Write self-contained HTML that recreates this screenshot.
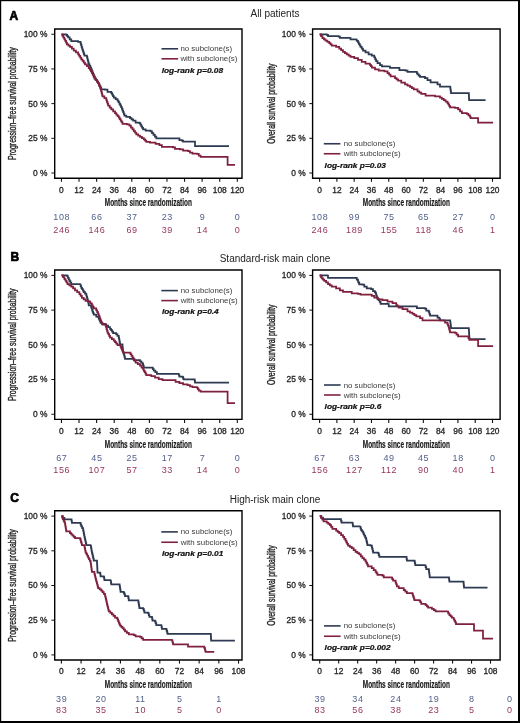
<!DOCTYPE html>
<html><head><meta charset="utf-8"><style>
html,body{margin:0;padding:0;background:#fff;width:520px;height:723px;overflow:hidden}
svg text{font-family:"Liberation Sans", sans-serif}
.lt{font-size:12px;font-weight:bold;fill:#000;stroke:#000;stroke-width:0.7px}
.tt{font-size:10px;fill:#222}
.yl{font-size:10px;fill:#1e1e1e;stroke:#1e1e1e;stroke-width:0.35px}
.tk{font-size:8.4px;fill:#262626;stroke:#262626;stroke-width:0.3px}
.ml{font-size:10.4px;font-weight:bold;fill:#1a1a1a;stroke:#1a1a1a;stroke-width:0.2px}
.nb{font-size:9px;letter-spacing:0.6px;fill:#52618a;stroke:#52618a;stroke-width:0px}
.nr{font-size:9px;letter-spacing:0.6px;fill:#963760;stroke:#963760;stroke-width:0px}
.lg{font-size:7.9px;fill:#3a3a3a}
.lr{font-size:7.6px;font-weight:bold;font-style:italic;fill:#111;stroke:#111;stroke-width:0.2px}
svg{will-change:transform}
</style></head><body>
<svg width="520" height="723" viewBox="0 0 520 723" style="display:block"><rect x="0" y="0" width="520" height="723" fill="#000"/>
<rect x="1.2" y="1.2" width="516.8" height="719.8" fill="#fff"/>
<text x="9.6" y="19.5" class="lt">A</text>
<text x="275" y="16.9" class="tt" text-anchor="middle">All patients</text>
<g transform="translate(16.2,103.625) rotate(-90)"><text x="-56.30" y="0" class="yl" textLength="112.6" lengthAdjust="spacingAndGlyphs">Progression–free survival probability</text></g>
<line x1="51.400000000000006" y1="34.25" x2="54.7" y2="34.25" stroke="#111" stroke-width="1"/>
<text x="47.4" y="37.15" class="tk" text-anchor="end">100 %</text>
<line x1="51.400000000000006" y1="68.94" x2="54.7" y2="68.94" stroke="#111" stroke-width="1"/>
<text x="47.4" y="71.84" class="tk" text-anchor="end">75 %</text>
<line x1="51.400000000000006" y1="103.62" x2="54.7" y2="103.62" stroke="#111" stroke-width="1"/>
<text x="47.4" y="106.53" class="tk" text-anchor="end">50 %</text>
<line x1="51.400000000000006" y1="138.31" x2="54.7" y2="138.31" stroke="#111" stroke-width="1"/>
<text x="47.4" y="141.21" class="tk" text-anchor="end">25 %</text>
<line x1="51.400000000000006" y1="173.00" x2="54.7" y2="173.00" stroke="#111" stroke-width="1"/>
<text x="47.4" y="175.90" class="tk" text-anchor="end">0 %</text>
<line x1="61.45" y1="178.2" x2="61.45" y2="181.79999999999998" stroke="#111" stroke-width="1.1"/>
<text x="61.45" y="192.50" class="tk" text-anchor="middle">0</text>
<line x1="79.03" y1="178.2" x2="79.03" y2="181.79999999999998" stroke="#111" stroke-width="1.1"/>
<text x="79.03" y="192.50" class="tk" text-anchor="middle">12</text>
<line x1="96.62" y1="178.2" x2="96.62" y2="181.79999999999998" stroke="#111" stroke-width="1.1"/>
<text x="96.62" y="192.50" class="tk" text-anchor="middle">24</text>
<line x1="114.21" y1="178.2" x2="114.21" y2="181.79999999999998" stroke="#111" stroke-width="1.1"/>
<text x="114.21" y="192.50" class="tk" text-anchor="middle">36</text>
<line x1="131.79" y1="178.2" x2="131.79" y2="181.79999999999998" stroke="#111" stroke-width="1.1"/>
<text x="131.79" y="192.50" class="tk" text-anchor="middle">48</text>
<line x1="149.38" y1="178.2" x2="149.38" y2="181.79999999999998" stroke="#111" stroke-width="1.1"/>
<text x="149.38" y="192.50" class="tk" text-anchor="middle">60</text>
<line x1="166.96" y1="178.2" x2="166.96" y2="181.79999999999998" stroke="#111" stroke-width="1.1"/>
<text x="166.96" y="192.50" class="tk" text-anchor="middle">72</text>
<line x1="184.55" y1="178.2" x2="184.55" y2="181.79999999999998" stroke="#111" stroke-width="1.1"/>
<text x="184.55" y="192.50" class="tk" text-anchor="middle">84</text>
<line x1="202.13" y1="178.2" x2="202.13" y2="181.79999999999998" stroke="#111" stroke-width="1.1"/>
<text x="202.13" y="192.50" class="tk" text-anchor="middle">96</text>
<line x1="219.72" y1="178.2" x2="219.72" y2="181.79999999999998" stroke="#111" stroke-width="1.1"/>
<text x="219.72" y="192.50" class="tk" text-anchor="middle">108</text>
<line x1="237.30" y1="178.2" x2="237.30" y2="181.79999999999998" stroke="#111" stroke-width="1.1"/>
<text x="237.30" y="192.50" class="tk" text-anchor="middle">120</text>
<text x="104.75" y="206.39999999999998" class="ml" textLength="87.2" lengthAdjust="spacingAndGlyphs">Months since randomization</text>
<text x="61.75" y="219.9" class="nb" text-anchor="middle">108</text>
<text x="96.92" y="219.9" class="nb" text-anchor="middle">66</text>
<text x="132.09" y="219.9" class="nb" text-anchor="middle">37</text>
<text x="167.26" y="219.9" class="nb" text-anchor="middle">23</text>
<text x="202.43" y="219.9" class="nb" text-anchor="middle">9</text>
<text x="237.60" y="219.9" class="nb" text-anchor="middle">0</text>
<text x="61.75" y="233.4" class="nr" text-anchor="middle">246</text>
<text x="96.92" y="233.4" class="nr" text-anchor="middle">146</text>
<text x="132.09" y="233.4" class="nr" text-anchor="middle">69</text>
<text x="167.26" y="233.4" class="nr" text-anchor="middle">39</text>
<text x="202.43" y="233.4" class="nr" text-anchor="middle">14</text>
<text x="237.60" y="233.4" class="nr" text-anchor="middle">0</text>
<path d="M61.45,34.25 L66.25,34.25 L66.25,34.90 L67.17,34.90 L67.17,36.15 L68.10,36.15 L68.10,37.40 L69.67,37.40 L69.67,39.25 L71.25,39.25 L71.25,41.10 L78.10,41.10 L78.10,41.75 L80.60,41.75 L80.60,43.60 L81.07,43.60 L81.07,45.17 L81.55,45.17 L81.55,46.75 L82.03,46.75 L82.03,48.33 L82.50,48.33 L82.50,49.90 L82.97,49.90 L82.97,51.30 L83.45,51.30 L83.45,52.70 L83.93,52.70 L83.93,54.10 L84.40,54.10 L84.40,55.50 L86.90,55.50 L86.90,56.75 L87.27,56.75 L87.27,58.25 L87.64,58.25 L87.64,59.75 L88.01,59.75 L88.01,61.25 L88.38,61.25 L88.38,62.75 L88.75,62.75 L88.75,64.25 L89.54,64.25 L89.54,65.96 L90.33,65.96 L90.33,67.67 L91.11,67.67 L91.11,69.39 L91.90,69.39 L91.90,71.10 L92.52,71.10 L92.52,72.60 L93.14,72.60 L93.14,74.10 L93.76,74.10 L93.76,75.60 L94.38,75.60 L94.38,77.10 L95.00,77.10 L95.00,78.60 L96.03,78.60 L96.03,80.07 L97.07,80.07 L97.07,81.53 L98.10,81.53 L98.10,83.00 L98.89,83.00 L98.89,84.56 L99.67,84.56 L99.67,86.12 L100.46,86.12 L100.46,87.69 L101.25,87.69 L101.25,89.25 L105.00,89.25 L105.00,89.60 L107.50,89.60 L107.50,91.90 L111.30,91.90 L111.30,93.10 L112.13,93.10 L112.13,94.57 L112.97,94.57 L112.97,96.03 L113.80,96.03 L113.80,97.50 L115.65,97.50 L115.65,99.05 L117.50,99.05 L117.50,100.60 L118.45,100.60 L118.45,102.20 L119.40,102.20 L119.40,103.80 L120.23,103.80 L120.23,105.47 L121.07,105.47 L121.07,107.13 L121.90,107.13 L121.90,108.80 L122.53,108.80 L122.53,110.50 L123.15,110.50 L123.15,112.20 L123.78,112.20 L123.78,113.90 L124.40,113.90 L124.40,115.60 L126.30,115.60 L126.30,116.90 L130.00,116.90 L130.00,118.10 L131.55,118.10 L131.55,119.35 L133.10,119.35 L133.10,120.60 L135.60,120.60 L135.60,122.50 L139.40,122.50 L139.40,123.10 L140.32,123.10 L140.32,124.67 L141.25,124.67 L141.25,126.25 L142.18,126.25 L142.18,127.83 L143.10,127.83 L143.10,129.40 L145.60,129.40 L145.60,130.60 L150.60,130.60 L150.60,131.30 L152.03,131.30 L152.03,133.05 L153.45,133.05 L153.45,134.80 L154.88,134.80 L154.88,136.55 L156.30,136.55 L156.30,138.30 L178.10,138.30 L179.40,138.40 L179.40,140.00 L181.90,140.00 L181.90,140.60 L183.10,140.60 L183.10,141.50 L195.00,141.50 L195.00,146.00 L229.00,146.00" fill="none" stroke="#2e3a52" stroke-width="1.75" stroke-linejoin="miter"/>
<path d="M61.45,34.25 L62.43,34.25 L62.43,35.92 L63.42,35.92 L63.42,37.58 L64.40,37.58 L64.40,39.25 L65.23,39.25 L65.23,40.92 L66.07,40.92 L66.07,42.58 L66.90,42.58 L66.90,44.25 L68.45,44.25 L68.45,45.50 L70.00,45.50 L70.00,46.75 L71.88,46.75 L71.88,48.62 L73.75,48.62 L73.75,50.50 L75.92,50.50 L75.92,52.38 L78.10,52.38 L78.10,54.25 L79.15,54.25 L79.15,55.92 L80.20,55.92 L80.20,57.58 L81.25,57.58 L81.25,59.25 L82.50,59.25 L82.50,60.92 L83.75,60.92 L83.75,62.58 L85.00,62.58 L85.00,64.25 L86.88,64.25 L86.88,66.12 L88.75,66.12 L88.75,68.00 L89.80,68.00 L89.80,69.67 L90.85,69.67 L90.85,71.33 L91.90,71.33 L91.90,73.00 L92.73,73.00 L92.73,74.87 L93.57,74.87 L93.57,76.73 L94.40,76.73 L94.40,78.60 L95.63,78.60 L95.63,80.07 L96.87,80.07 L96.87,81.53 L98.10,81.53 L98.10,83.00 L98.72,83.00 L98.72,84.50 L99.35,84.50 L99.35,86.00 L99.97,86.00 L99.97,87.50 L100.60,87.50 L100.60,89.00 L100.98,89.00 L100.98,90.46 L101.36,90.46 L101.36,91.92 L101.74,91.92 L101.74,93.38 L102.12,93.38 L102.12,94.84 L102.50,94.84 L102.50,96.30 L104.40,96.30 L104.40,98.15 L106.30,98.15 L106.30,100.00 L106.90,100.00 L106.90,101.87 L107.50,101.87 L107.50,103.73 L108.10,103.73 L108.10,105.60 L109.70,105.60 L109.70,107.50 L111.30,107.50 L111.30,109.40 L113.15,109.40 L113.15,111.25 L115.00,111.25 L115.00,113.10 L116.27,113.10 L116.27,114.57 L117.53,114.57 L117.53,116.03 L118.80,116.03 L118.80,117.50 L119.72,117.50 L119.72,119.08 L120.65,119.08 L120.65,120.65 L121.58,120.65 L121.58,122.22 L122.50,122.22 L122.50,123.80 L126.90,123.80 L126.90,124.40 L129.40,124.40 L129.40,125.60 L130.95,125.60 L130.95,127.50 L132.50,127.50 L132.50,129.40 L133.77,129.40 L133.77,131.07 L135.03,131.07 L135.03,132.73 L136.30,132.73 L136.30,134.40 L138.15,134.40 L138.15,135.65 L140.00,135.65 L140.00,136.90 L141.90,136.90 L141.90,138.15 L143.80,138.15 L143.80,139.40 L145.05,139.40 L145.05,140.65 L146.30,140.65 L146.30,141.90 L150.00,141.90 L150.00,142.50 L155.60,142.50 L155.60,143.80 L159.40,143.80 L159.40,145.00 L161.90,145.00 L161.90,146.90 L173.10,146.90 L173.10,147.25 L175.00,147.25 L175.00,148.75 L180.00,148.75 L180.00,149.40 L183.10,149.40 L183.10,150.60 L188.10,150.60 L188.10,151.00 L190.00,151.00 L190.00,152.50 L192.50,152.50 L192.50,153.50 L196.90,153.50 L196.90,153.90 L198.75,153.90 L198.75,155.60 L200.60,155.60 L200.60,156.80 L227.60,156.80 L227.60,164.80 L235.00,164.80" fill="none" stroke="#80203f" stroke-width="1.75" stroke-linejoin="miter"/>
<line x1="161.5" y1="48.8" x2="178.1" y2="48.8" stroke="#2e3a52" stroke-width="1.6"/>
<line x1="161.5" y1="58.8" x2="178.1" y2="58.8" stroke="#80203f" stroke-width="1.6"/>
<text x="180.4" y="51.3" class="lg">no subclone(s)</text>
<text x="180.4" y="61.3" class="lg">with subclone(s)</text>
<g transform="translate(161.7,72.9) scale(1.1,1)"><text x="0" y="0" class="lr">log-rank p=0.08</text></g>
<path d="M54.7,29.0 L242.0,29.0 L242.0,178.2 L54.7,178.2 Z" fill="none" stroke="#000" stroke-width="1.4"/>
<g transform="translate(274.5,103.625) rotate(-90)"><text x="-40.15" y="0" class="yl" textLength="80.3" lengthAdjust="spacingAndGlyphs">Overall survival probability</text></g>
<line x1="309.3" y1="34.25" x2="312.6" y2="34.25" stroke="#111" stroke-width="1"/>
<text x="305.6" y="37.15" class="tk" text-anchor="end">100 %</text>
<line x1="309.3" y1="68.94" x2="312.6" y2="68.94" stroke="#111" stroke-width="1"/>
<text x="305.6" y="71.84" class="tk" text-anchor="end">75 %</text>
<line x1="309.3" y1="103.62" x2="312.6" y2="103.62" stroke="#111" stroke-width="1"/>
<text x="305.6" y="106.53" class="tk" text-anchor="end">50 %</text>
<line x1="309.3" y1="138.31" x2="312.6" y2="138.31" stroke="#111" stroke-width="1"/>
<text x="305.6" y="141.21" class="tk" text-anchor="end">25 %</text>
<line x1="309.3" y1="173.00" x2="312.6" y2="173.00" stroke="#111" stroke-width="1"/>
<text x="305.6" y="175.90" class="tk" text-anchor="end">0 %</text>
<line x1="319.60" y1="178.2" x2="319.60" y2="181.79999999999998" stroke="#111" stroke-width="1.1"/>
<text x="319.60" y="192.50" class="tk" text-anchor="middle">0</text>
<line x1="336.89" y1="178.2" x2="336.89" y2="181.79999999999998" stroke="#111" stroke-width="1.1"/>
<text x="336.89" y="192.50" class="tk" text-anchor="middle">12</text>
<line x1="354.18" y1="178.2" x2="354.18" y2="181.79999999999998" stroke="#111" stroke-width="1.1"/>
<text x="354.18" y="192.50" class="tk" text-anchor="middle">24</text>
<line x1="371.47" y1="178.2" x2="371.47" y2="181.79999999999998" stroke="#111" stroke-width="1.1"/>
<text x="371.47" y="192.50" class="tk" text-anchor="middle">36</text>
<line x1="388.76" y1="178.2" x2="388.76" y2="181.79999999999998" stroke="#111" stroke-width="1.1"/>
<text x="388.76" y="192.50" class="tk" text-anchor="middle">48</text>
<line x1="406.05" y1="178.2" x2="406.05" y2="181.79999999999998" stroke="#111" stroke-width="1.1"/>
<text x="406.05" y="192.50" class="tk" text-anchor="middle">60</text>
<line x1="423.34" y1="178.2" x2="423.34" y2="181.79999999999998" stroke="#111" stroke-width="1.1"/>
<text x="423.34" y="192.50" class="tk" text-anchor="middle">72</text>
<line x1="440.63" y1="178.2" x2="440.63" y2="181.79999999999998" stroke="#111" stroke-width="1.1"/>
<text x="440.63" y="192.50" class="tk" text-anchor="middle">84</text>
<line x1="457.92" y1="178.2" x2="457.92" y2="181.79999999999998" stroke="#111" stroke-width="1.1"/>
<text x="457.92" y="192.50" class="tk" text-anchor="middle">96</text>
<line x1="475.21" y1="178.2" x2="475.21" y2="181.79999999999998" stroke="#111" stroke-width="1.1"/>
<text x="475.21" y="192.50" class="tk" text-anchor="middle">108</text>
<line x1="492.50" y1="178.2" x2="492.50" y2="181.79999999999998" stroke="#111" stroke-width="1.1"/>
<text x="492.50" y="192.50" class="tk" text-anchor="middle">120</text>
<text x="362.75" y="206.39999999999998" class="ml" textLength="87.2" lengthAdjust="spacingAndGlyphs">Months since randomization</text>
<text x="319.90" y="219.9" class="nb" text-anchor="middle">108</text>
<text x="354.48" y="219.9" class="nb" text-anchor="middle">99</text>
<text x="389.06" y="219.9" class="nb" text-anchor="middle">75</text>
<text x="423.64" y="219.9" class="nb" text-anchor="middle">65</text>
<text x="458.22" y="219.9" class="nb" text-anchor="middle">27</text>
<text x="492.80" y="219.9" class="nb" text-anchor="middle">0</text>
<text x="319.90" y="233.4" class="nr" text-anchor="middle">246</text>
<text x="354.48" y="233.4" class="nr" text-anchor="middle">189</text>
<text x="389.06" y="233.4" class="nr" text-anchor="middle">155</text>
<text x="423.64" y="233.4" class="nr" text-anchor="middle">118</text>
<text x="458.22" y="233.4" class="nr" text-anchor="middle">46</text>
<text x="492.80" y="233.4" class="nr" text-anchor="middle">1</text>
<path d="M319.60,34.25 L326.75,34.25 L326.75,34.90 L328.00,34.90 L328.00,36.10 L338.60,36.10 L338.60,36.50 L339.90,36.50 L339.90,37.75 L349.25,37.75 L350.50,38.00 L350.50,39.25 L355.50,39.25 L356.75,39.50 L356.75,40.95 L358.00,40.95 L358.00,42.40 L358.83,42.40 L358.83,43.85 L359.67,43.85 L359.67,45.30 L360.50,45.30 L360.50,46.75 L361.75,46.75 L361.75,48.62 L363.00,48.62 L363.00,50.50 L365.50,50.50 L365.50,52.40 L368.60,52.40 L368.60,54.25 L371.75,54.25 L371.75,55.50 L374.25,55.50 L374.25,57.40 L375.18,57.40 L375.18,59.25 L376.10,59.25 L376.10,61.10 L377.50,61.10 L377.50,63.10 L380.00,63.10 L380.00,65.00 L381.90,65.00 L381.90,66.25 L387.50,66.25 L390.00,66.50 L390.00,67.75 L396.90,67.75 L399.40,67.75 L399.40,70.00 L405.60,70.00 L405.60,70.60 L407.50,70.60 L407.50,71.90 L416.25,71.90 L416.88,71.90 L416.88,73.15 L417.50,73.15 L417.50,74.40 L418.75,74.40 L418.75,75.65 L420.00,75.65 L420.00,76.90 L425.00,76.90 L425.00,78.10 L427.50,78.10 L427.50,80.00 L430.60,80.00 L430.60,82.25 L436.25,82.25 L437.50,82.25 L437.50,84.40 L440.00,84.40 L440.00,86.50 L450.00,86.50 L450.25,86.50 L450.25,88.15 L450.50,88.15 L450.50,89.80 L450.75,89.80 L450.75,91.45 L451.00,91.45 L451.00,93.10 L468.75,93.10 L468.84,93.10 L468.84,94.82 L468.93,94.82 L468.93,96.55 L469.01,96.55 L469.01,98.28 L469.10,98.28 L469.10,100.00 L485.60,100.00" fill="none" stroke="#2e3a52" stroke-width="1.75" stroke-linejoin="miter"/>
<path d="M319.60,34.25 L321.00,34.25 L321.00,36.12 L322.40,36.12 L322.40,38.00 L323.95,38.00 L323.95,39.25 L325.50,39.25 L325.50,40.50 L327.38,40.50 L327.38,41.75 L329.25,41.75 L329.25,43.00 L330.50,43.00 L330.50,44.25 L331.75,44.25 L331.75,45.50 L336.10,45.50 L336.10,46.75 L339.25,46.75 L339.25,48.60 L341.12,48.60 L341.12,50.17 L343.00,50.17 L343.00,51.75 L344.88,51.75 L344.88,53.00 L346.75,53.00 L346.75,54.25 L348.62,54.25 L348.62,55.50 L350.50,55.50 L350.50,56.75 L354.25,56.75 L354.25,58.00 L358.00,58.00 L358.00,59.90 L361.75,59.90 L361.75,61.75 L365.50,61.75 L365.50,63.60 L369.90,63.60 L369.90,64.90 L370.90,64.90 L370.90,66.20 L371.90,66.20 L371.90,67.50 L375.00,67.50 L375.00,69.40 L378.75,69.40 L378.75,70.60 L384.40,70.60 L384.40,71.25 L387.50,71.25 L387.50,73.10 L389.05,73.10 L389.05,74.67 L390.60,74.67 L390.60,76.25 L395.00,76.25 L395.00,78.10 L396.55,78.10 L396.55,79.35 L398.10,79.35 L398.10,80.60 L401.25,80.60 L401.25,82.50 L405.00,82.50 L405.00,84.40 L407.50,84.40 L407.50,85.65 L410.00,85.65 L410.00,86.90 L411.88,86.90 L411.88,88.15 L413.75,88.15 L413.75,89.40 L417.50,89.40 L417.50,91.25 L419.38,91.25 L419.38,92.50 L421.25,92.50 L421.25,93.75 L425.60,93.75 L425.60,95.60 L435.00,95.60 L435.00,96.25 L440.00,96.25 L440.00,97.50 L441.88,97.50 L441.88,98.75 L443.75,98.75 L443.75,100.00 L445.62,100.00 L445.62,101.55 L447.50,101.55 L447.50,103.10 L448.33,103.10 L448.33,104.48 L449.17,104.48 L449.17,105.87 L450.00,105.87 L450.00,107.25 L455.00,107.25 L455.00,107.75 L458.10,107.75 L458.10,109.40 L460.00,109.40 L460.00,111.25 L461.90,111.25 L461.90,113.10 L466.90,113.10 L466.90,113.75 L468.45,113.75 L468.45,115.33 L470.00,115.33 L470.00,116.90 L470.60,116.90 L470.60,118.10 L478.10,118.10 L478.10,122.50 L493.10,122.50" fill="none" stroke="#80203f" stroke-width="1.75" stroke-linejoin="miter"/>
<line x1="323.8" y1="143.75" x2="340.40000000000003" y2="143.75" stroke="#2e3a52" stroke-width="1.6"/>
<line x1="323.8" y1="153.75" x2="340.40000000000003" y2="153.75" stroke="#80203f" stroke-width="1.6"/>
<text x="343.65" y="146.25" class="lg">no subclone(s)</text>
<text x="343.65" y="156.25" class="lg">with subclone(s)</text>
<g transform="translate(324.59999999999997,167.5) scale(1.1,1)"><text x="0" y="0" class="lr">log-rank p=0.03</text></g>
<path d="M312.6,29.0 L500.1,29.0 L500.1,178.2 L312.6,178.2 Z" fill="none" stroke="#000" stroke-width="1.4"/>
<text x="10.6" y="261.2" class="lt">B</text>
<text x="275" y="262.0" class="tt" text-anchor="middle">Standard-risk main clone</text>
<g transform="translate(16.2,344.825) rotate(-90)"><text x="-56.30" y="0" class="yl" textLength="112.6" lengthAdjust="spacingAndGlyphs">Progression–free survival probability</text></g>
<line x1="51.400000000000006" y1="275.40" x2="54.7" y2="275.40" stroke="#111" stroke-width="1"/>
<text x="47.4" y="278.30" class="tk" text-anchor="end">100 %</text>
<line x1="51.400000000000006" y1="310.11" x2="54.7" y2="310.11" stroke="#111" stroke-width="1"/>
<text x="47.4" y="313.01" class="tk" text-anchor="end">75 %</text>
<line x1="51.400000000000006" y1="344.82" x2="54.7" y2="344.82" stroke="#111" stroke-width="1"/>
<text x="47.4" y="347.72" class="tk" text-anchor="end">50 %</text>
<line x1="51.400000000000006" y1="379.54" x2="54.7" y2="379.54" stroke="#111" stroke-width="1"/>
<text x="47.4" y="382.44" class="tk" text-anchor="end">25 %</text>
<line x1="51.400000000000006" y1="414.25" x2="54.7" y2="414.25" stroke="#111" stroke-width="1"/>
<text x="47.4" y="417.15" class="tk" text-anchor="end">0 %</text>
<line x1="61.45" y1="419.4" x2="61.45" y2="423.0" stroke="#111" stroke-width="1.1"/>
<text x="61.45" y="433.70" class="tk" text-anchor="middle">0</text>
<line x1="79.03" y1="419.4" x2="79.03" y2="423.0" stroke="#111" stroke-width="1.1"/>
<text x="79.03" y="433.70" class="tk" text-anchor="middle">12</text>
<line x1="96.62" y1="419.4" x2="96.62" y2="423.0" stroke="#111" stroke-width="1.1"/>
<text x="96.62" y="433.70" class="tk" text-anchor="middle">24</text>
<line x1="114.21" y1="419.4" x2="114.21" y2="423.0" stroke="#111" stroke-width="1.1"/>
<text x="114.21" y="433.70" class="tk" text-anchor="middle">36</text>
<line x1="131.79" y1="419.4" x2="131.79" y2="423.0" stroke="#111" stroke-width="1.1"/>
<text x="131.79" y="433.70" class="tk" text-anchor="middle">48</text>
<line x1="149.38" y1="419.4" x2="149.38" y2="423.0" stroke="#111" stroke-width="1.1"/>
<text x="149.38" y="433.70" class="tk" text-anchor="middle">60</text>
<line x1="166.96" y1="419.4" x2="166.96" y2="423.0" stroke="#111" stroke-width="1.1"/>
<text x="166.96" y="433.70" class="tk" text-anchor="middle">72</text>
<line x1="184.55" y1="419.4" x2="184.55" y2="423.0" stroke="#111" stroke-width="1.1"/>
<text x="184.55" y="433.70" class="tk" text-anchor="middle">84</text>
<line x1="202.13" y1="419.4" x2="202.13" y2="423.0" stroke="#111" stroke-width="1.1"/>
<text x="202.13" y="433.70" class="tk" text-anchor="middle">96</text>
<line x1="219.72" y1="419.4" x2="219.72" y2="423.0" stroke="#111" stroke-width="1.1"/>
<text x="219.72" y="433.70" class="tk" text-anchor="middle">108</text>
<line x1="237.30" y1="419.4" x2="237.30" y2="423.0" stroke="#111" stroke-width="1.1"/>
<text x="237.30" y="433.70" class="tk" text-anchor="middle">120</text>
<text x="104.75" y="447.59999999999997" class="ml" textLength="87.2" lengthAdjust="spacingAndGlyphs">Months since randomization</text>
<text x="61.75" y="461.1" class="nb" text-anchor="middle">67</text>
<text x="96.92" y="461.1" class="nb" text-anchor="middle">45</text>
<text x="132.09" y="461.1" class="nb" text-anchor="middle">25</text>
<text x="167.26" y="461.1" class="nb" text-anchor="middle">17</text>
<text x="202.43" y="461.1" class="nb" text-anchor="middle">7</text>
<text x="237.60" y="461.1" class="nb" text-anchor="middle">0</text>
<text x="61.75" y="472.5" class="nr" text-anchor="middle">156</text>
<text x="96.92" y="472.5" class="nr" text-anchor="middle">107</text>
<text x="132.09" y="472.5" class="nr" text-anchor="middle">57</text>
<text x="167.26" y="472.5" class="nr" text-anchor="middle">33</text>
<text x="202.43" y="472.5" class="nr" text-anchor="middle">14</text>
<text x="237.60" y="472.5" class="nr" text-anchor="middle">0</text>
<path d="M61.45,275.40 L66.90,275.40 L66.90,275.90 L67.83,275.90 L67.83,277.75 L68.75,277.75 L68.75,279.60 L69.58,279.60 L69.58,281.07 L70.42,281.07 L70.42,282.53 L71.25,282.53 L71.25,284.00 L80.00,284.00 L80.62,284.25 L80.62,286.00 L81.25,286.00 L81.25,287.75 L82.08,287.75 L82.08,289.20 L82.92,289.20 L82.92,290.65 L83.75,290.65 L83.75,292.10 L85.00,292.10 L85.00,293.68 L86.25,293.68 L86.25,295.25 L86.71,295.25 L86.71,296.96 L87.17,296.96 L87.17,298.68 L87.64,298.68 L87.64,300.39 L88.10,300.39 L88.10,302.10 L88.42,302.10 L88.42,303.68 L88.75,303.68 L88.75,305.25 L90.60,305.25 L91.07,305.25 L91.07,306.81 L91.55,306.81 L91.55,308.38 L92.03,308.38 L92.03,309.94 L92.50,309.94 L92.50,311.50 L93.12,311.50 L93.12,313.05 L93.75,313.05 L93.75,314.60 L96.25,314.60 L96.25,316.50 L98.10,316.50 L98.10,317.10 L98.72,317.10 L98.72,318.51 L99.35,318.51 L99.35,319.93 L99.97,319.93 L99.97,321.34 L100.60,321.34 L100.60,322.75 L102.50,322.75 L102.50,324.60 L106.25,324.60 L106.25,325.60 L108.12,325.60 L108.12,327.18 L110.00,327.18 L110.00,328.75 L111.03,328.75 L111.03,330.20 L112.07,330.20 L112.07,331.65 L113.10,331.65 L113.10,333.10 L116.25,333.10 L116.25,334.40 L117.50,334.40 L117.50,335.95 L118.75,335.95 L118.75,337.50 L119.06,337.50 L119.06,339.23 L119.38,339.23 L119.38,340.95 L119.69,340.95 L119.69,342.67 L120.00,342.67 L120.00,344.40 L122.50,344.40 L122.50,346.25 L122.65,346.25 L122.65,347.66 L122.80,347.66 L122.80,349.07 L122.95,349.07 L122.95,350.49 L123.10,350.49 L123.10,351.90 L123.57,351.90 L123.57,353.61 L124.05,353.61 L124.05,355.32 L124.53,355.32 L124.53,357.04 L125.00,357.04 L125.00,358.75 L131.25,358.75 L133.75,358.75 L133.75,360.00 L140.00,360.00 L140.00,361.25 L141.25,361.25 L141.25,362.50 L142.50,362.50 L142.50,363.75 L143.12,363.75 L143.12,365.62 L143.75,365.62 L143.75,367.50 L151.90,367.50 L152.82,367.50 L152.82,369.05 L153.75,369.05 L153.75,370.60 L155.32,370.60 L155.32,372.18 L156.90,372.18 L156.90,373.75 L178.50,373.75 L178.95,374.00 L178.95,375.25 L179.40,375.25 L179.40,376.50 L182.50,376.50 L182.50,376.90 L183.00,376.90 L183.00,378.15 L183.50,378.15 L183.50,379.40 L194.40,379.40 L194.70,379.40 L194.70,380.95 L195.00,380.95 L195.00,382.50 L229.00,382.50" fill="none" stroke="#2e3a52" stroke-width="1.75" stroke-linejoin="miter"/>
<path d="M61.45,275.40 L62.93,275.40 L62.93,277.20 L64.40,277.20 L64.40,279.00 L65.43,279.00 L65.43,280.67 L66.47,280.67 L66.47,282.33 L67.50,282.33 L67.50,284.00 L69.38,284.00 L69.38,285.25 L71.25,285.25 L71.25,286.50 L73.12,286.50 L73.12,288.38 L75.00,288.38 L75.00,290.25 L77.20,290.25 L77.20,292.12 L79.40,292.12 L79.40,294.00 L80.65,294.00 L80.65,295.88 L81.90,295.88 L81.90,297.75 L83.75,297.75 L83.75,299.32 L85.60,299.32 L85.60,300.90 L88.75,300.90 L88.75,301.50 L90.33,301.50 L90.33,303.38 L91.90,303.38 L91.90,305.25 L92.83,305.25 L92.83,306.82 L93.75,306.82 L93.75,308.40 L96.25,308.40 L96.25,310.25 L97.17,310.25 L97.17,312.12 L98.10,312.12 L98.10,314.00 L98.73,314.00 L98.73,315.67 L99.37,315.67 L99.37,317.33 L100.00,317.33 L100.00,319.00 L100.63,319.00 L100.63,320.58 L101.27,320.58 L101.27,322.17 L101.90,322.17 L101.90,323.75 L105.60,323.75 L105.60,325.60 L106.07,325.60 L106.07,327.33 L106.55,327.33 L106.55,329.05 L107.03,329.05 L107.03,330.77 L107.50,330.77 L107.50,332.50 L108.33,332.50 L108.33,334.17 L109.17,334.17 L109.17,335.83 L110.00,335.83 L110.00,337.50 L111.88,337.50 L111.88,339.05 L113.75,339.05 L113.75,340.60 L115.00,340.60 L115.00,342.07 L116.25,342.07 L116.25,343.53 L117.50,343.53 L117.50,345.00 L120.60,345.00 L120.60,346.90 L121.22,346.90 L121.22,348.30 L121.85,348.30 L121.85,349.70 L122.47,349.70 L122.47,351.10 L123.10,351.10 L123.10,352.50 L129.40,352.50 L130.43,352.50 L130.43,354.17 L131.47,354.17 L131.47,355.83 L132.50,355.83 L132.50,357.50 L133.53,357.50 L133.53,359.17 L134.57,359.17 L134.57,360.83 L135.60,360.83 L135.60,362.50 L137.80,362.50 L137.80,364.05 L140.00,364.05 L140.00,365.60 L141.55,365.60 L141.55,367.50 L143.10,367.50 L143.10,369.40 L143.89,369.40 L143.89,370.80 L144.68,370.80 L144.68,372.20 L145.46,372.20 L145.46,373.60 L146.25,373.60 L146.25,375.00 L151.25,375.00 L151.25,376.00 L155.00,376.00 L155.00,377.50 L158.75,377.50 L158.75,379.00 L162.50,379.00 L162.50,380.00 L173.10,380.00 L175.60,380.00 L175.60,381.90 L179.40,381.90 L179.40,383.10 L183.10,383.10 L183.10,384.40 L187.50,384.40 L187.50,385.00 L190.00,385.00 L190.00,386.25 L192.50,386.25 L192.50,387.10 L196.90,387.10 L196.90,387.50 L197.82,387.50 L197.82,389.05 L198.75,389.05 L198.75,390.60 L200.60,390.60 L200.60,391.60 L227.60,391.60 L227.60,403.00 L235.00,403.00" fill="none" stroke="#80203f" stroke-width="1.75" stroke-linejoin="miter"/>
<line x1="161.3" y1="290.6" x2="177.9" y2="290.6" stroke="#2e3a52" stroke-width="1.6"/>
<line x1="161.3" y1="300.6" x2="177.9" y2="300.6" stroke="#80203f" stroke-width="1.6"/>
<text x="180.65" y="293.1" class="lg">no subclone(s)</text>
<text x="180.65" y="303.1" class="lg">with subclone(s)</text>
<g transform="translate(161.95,314.0) scale(1.1,1)"><text x="0" y="0" class="lr">log-rank p=0.4</text></g>
<path d="M54.7,270.0 L242.0,270.0 L242.0,419.4 L54.7,419.4 Z" fill="none" stroke="#000" stroke-width="1.4"/>
<g transform="translate(274.5,344.825) rotate(-90)"><text x="-40.15" y="0" class="yl" textLength="80.3" lengthAdjust="spacingAndGlyphs">Overall survival probability</text></g>
<line x1="309.3" y1="275.40" x2="312.6" y2="275.40" stroke="#111" stroke-width="1"/>
<text x="305.6" y="278.30" class="tk" text-anchor="end">100 %</text>
<line x1="309.3" y1="310.11" x2="312.6" y2="310.11" stroke="#111" stroke-width="1"/>
<text x="305.6" y="313.01" class="tk" text-anchor="end">75 %</text>
<line x1="309.3" y1="344.82" x2="312.6" y2="344.82" stroke="#111" stroke-width="1"/>
<text x="305.6" y="347.72" class="tk" text-anchor="end">50 %</text>
<line x1="309.3" y1="379.54" x2="312.6" y2="379.54" stroke="#111" stroke-width="1"/>
<text x="305.6" y="382.44" class="tk" text-anchor="end">25 %</text>
<line x1="309.3" y1="414.25" x2="312.6" y2="414.25" stroke="#111" stroke-width="1"/>
<text x="305.6" y="417.15" class="tk" text-anchor="end">0 %</text>
<line x1="319.60" y1="419.4" x2="319.60" y2="423.0" stroke="#111" stroke-width="1.1"/>
<text x="319.60" y="433.70" class="tk" text-anchor="middle">0</text>
<line x1="336.89" y1="419.4" x2="336.89" y2="423.0" stroke="#111" stroke-width="1.1"/>
<text x="336.89" y="433.70" class="tk" text-anchor="middle">12</text>
<line x1="354.18" y1="419.4" x2="354.18" y2="423.0" stroke="#111" stroke-width="1.1"/>
<text x="354.18" y="433.70" class="tk" text-anchor="middle">24</text>
<line x1="371.47" y1="419.4" x2="371.47" y2="423.0" stroke="#111" stroke-width="1.1"/>
<text x="371.47" y="433.70" class="tk" text-anchor="middle">36</text>
<line x1="388.76" y1="419.4" x2="388.76" y2="423.0" stroke="#111" stroke-width="1.1"/>
<text x="388.76" y="433.70" class="tk" text-anchor="middle">48</text>
<line x1="406.05" y1="419.4" x2="406.05" y2="423.0" stroke="#111" stroke-width="1.1"/>
<text x="406.05" y="433.70" class="tk" text-anchor="middle">60</text>
<line x1="423.34" y1="419.4" x2="423.34" y2="423.0" stroke="#111" stroke-width="1.1"/>
<text x="423.34" y="433.70" class="tk" text-anchor="middle">72</text>
<line x1="440.63" y1="419.4" x2="440.63" y2="423.0" stroke="#111" stroke-width="1.1"/>
<text x="440.63" y="433.70" class="tk" text-anchor="middle">84</text>
<line x1="457.92" y1="419.4" x2="457.92" y2="423.0" stroke="#111" stroke-width="1.1"/>
<text x="457.92" y="433.70" class="tk" text-anchor="middle">96</text>
<line x1="475.21" y1="419.4" x2="475.21" y2="423.0" stroke="#111" stroke-width="1.1"/>
<text x="475.21" y="433.70" class="tk" text-anchor="middle">108</text>
<line x1="492.50" y1="419.4" x2="492.50" y2="423.0" stroke="#111" stroke-width="1.1"/>
<text x="492.50" y="433.70" class="tk" text-anchor="middle">120</text>
<text x="362.75" y="447.59999999999997" class="ml" textLength="87.2" lengthAdjust="spacingAndGlyphs">Months since randomization</text>
<text x="319.90" y="461.1" class="nb" text-anchor="middle">67</text>
<text x="354.48" y="461.1" class="nb" text-anchor="middle">63</text>
<text x="389.06" y="461.1" class="nb" text-anchor="middle">49</text>
<text x="423.64" y="461.1" class="nb" text-anchor="middle">45</text>
<text x="458.22" y="461.1" class="nb" text-anchor="middle">18</text>
<text x="492.80" y="461.1" class="nb" text-anchor="middle">0</text>
<text x="319.90" y="472.5" class="nr" text-anchor="middle">156</text>
<text x="354.48" y="472.5" class="nr" text-anchor="middle">127</text>
<text x="389.06" y="472.5" class="nr" text-anchor="middle">112</text>
<text x="423.64" y="472.5" class="nr" text-anchor="middle">90</text>
<text x="458.22" y="472.5" class="nr" text-anchor="middle">40</text>
<text x="492.80" y="472.5" class="nr" text-anchor="middle">1</text>
<path d="M319.60,275.40 L327.40,275.40 L328.00,275.50 L328.00,277.75 L355.50,277.75 L356.75,277.75 L356.75,279.60 L358.00,279.60 L358.00,281.50 L358.62,281.50 L358.62,282.88 L359.25,282.88 L359.25,284.25 L362.40,284.25 L362.40,284.60 L364.25,284.60 L364.25,286.50 L366.75,286.50 L366.75,288.40 L371.10,288.40 L371.10,289.00 L373.00,289.00 L373.00,291.00 L374.90,291.00 L374.90,292.10 L375.60,292.10 L375.60,293.10 L376.03,293.10 L376.03,294.57 L376.47,294.57 L376.47,296.03 L376.90,296.03 L376.90,297.50 L377.82,297.50 L377.82,298.75 L378.75,298.75 L378.75,300.00 L379.68,300.00 L379.68,301.88 L380.60,301.88 L380.60,303.75 L387.50,303.75 L388.75,304.00 L388.75,306.25 L415.60,306.25 L416.90,306.25 L416.90,308.10 L425.00,308.10 L425.00,308.50 L426.25,308.50 L426.25,310.60 L428.75,310.60 L428.75,311.90 L429.38,311.90 L429.38,313.75 L430.00,313.75 L430.00,315.60 L436.25,315.60 L437.50,315.60 L437.50,317.50 L439.40,317.50 L439.40,318.75 L440.00,318.75 L440.00,320.25 L450.00,320.25 L450.20,320.25 L450.20,321.82 L450.40,321.82 L450.40,323.39 L450.60,323.39 L450.60,324.96 L450.80,324.96 L450.80,326.53 L451.00,326.53 L451.00,328.10 L468.75,328.10 L468.84,328.10 L468.84,329.66 L468.94,329.66 L468.94,331.21 L469.03,331.21 L469.03,332.77 L469.12,332.77 L469.12,334.33 L469.21,334.33 L469.21,335.89 L469.31,335.89 L469.31,337.44 L469.40,337.44 L469.40,339.00 L485.60,339.00" fill="none" stroke="#2e3a52" stroke-width="1.75" stroke-linejoin="miter"/>
<path d="M319.60,275.40 L320.68,275.40 L320.68,276.90 L321.75,276.90 L321.75,278.40 L323.00,278.40 L323.00,279.65 L324.25,279.65 L324.25,280.90 L326.12,280.90 L326.12,282.45 L328.00,282.45 L328.00,284.00 L329.88,284.00 L329.88,285.25 L331.75,285.25 L331.75,286.50 L336.10,286.50 L336.10,288.40 L339.90,288.40 L339.90,290.25 L343.00,290.25 L343.00,291.75 L348.00,291.75 L351.75,291.75 L351.75,293.40 L358.00,293.40 L358.00,293.75 L360.50,293.75 L360.50,294.60 L369.25,294.60 L371.75,294.60 L371.75,295.90 L374.25,295.90 L374.25,297.50 L377.50,297.50 L377.50,299.40 L382.50,299.40 L382.50,300.00 L387.50,300.00 L387.50,301.50 L392.50,301.50 L392.50,303.10 L396.25,303.10 L396.25,305.00 L397.50,305.00 L397.50,306.25 L398.75,306.25 L398.75,307.50 L402.50,307.50 L402.50,309.00 L407.50,309.00 L407.50,311.25 L410.00,311.25 L410.00,312.50 L412.50,312.50 L412.50,313.75 L414.38,313.75 L414.38,315.00 L416.25,315.00 L416.25,316.25 L420.00,316.25 L420.00,318.10 L422.50,318.10 L422.50,320.40 L442.50,320.40 L445.00,320.60 L445.00,322.50 L447.50,322.50 L447.50,324.40 L448.12,324.40 L448.12,325.95 L448.75,325.95 L448.75,327.50 L449.17,327.50 L449.17,329.08 L449.58,329.08 L449.58,330.67 L450.00,330.67 L450.00,332.25 L455.00,332.25 L455.00,332.75 L456.55,332.75 L456.55,334.50 L458.10,334.50 L458.10,336.25 L467.50,336.25 L468.45,336.25 L468.45,338.00 L469.40,338.00 L469.40,339.75 L478.10,339.75 L478.10,346.00 L493.10,346.00" fill="none" stroke="#80203f" stroke-width="1.75" stroke-linejoin="miter"/>
<line x1="324.0" y1="385.0" x2="340.6" y2="385.0" stroke="#2e3a52" stroke-width="1.6"/>
<line x1="324.0" y1="395.0" x2="340.6" y2="395.0" stroke="#80203f" stroke-width="1.6"/>
<text x="343.65" y="387.5" class="lg">no subclone(s)</text>
<text x="343.65" y="397.5" class="lg">with subclone(s)</text>
<g transform="translate(324.59999999999997,408.75) scale(1.1,1)"><text x="0" y="0" class="lr">log-rank p=0.6</text></g>
<path d="M312.6,270.0 L500.1,270.0 L500.1,419.4 L312.6,419.4 Z" fill="none" stroke="#000" stroke-width="1.4"/>
<text x="10.2" y="501.9" class="lt">C</text>
<text x="275" y="502.5" class="tt" text-anchor="middle">High-risk main clone</text>
<g transform="translate(16.2,585.5) rotate(-90)"><text x="-56.30" y="0" class="yl" textLength="112.6" lengthAdjust="spacingAndGlyphs">Progression–free survival probability</text></g>
<line x1="51.400000000000006" y1="516.10" x2="54.7" y2="516.10" stroke="#111" stroke-width="1"/>
<text x="47.4" y="519.00" class="tk" text-anchor="end">100 %</text>
<line x1="51.400000000000006" y1="550.80" x2="54.7" y2="550.80" stroke="#111" stroke-width="1"/>
<text x="47.4" y="553.70" class="tk" text-anchor="end">75 %</text>
<line x1="51.400000000000006" y1="585.50" x2="54.7" y2="585.50" stroke="#111" stroke-width="1"/>
<text x="47.4" y="588.40" class="tk" text-anchor="end">50 %</text>
<line x1="51.400000000000006" y1="620.20" x2="54.7" y2="620.20" stroke="#111" stroke-width="1"/>
<text x="47.4" y="623.10" class="tk" text-anchor="end">25 %</text>
<line x1="51.400000000000006" y1="654.90" x2="54.7" y2="654.90" stroke="#111" stroke-width="1"/>
<text x="47.4" y="657.80" class="tk" text-anchor="end">0 %</text>
<line x1="61.40" y1="660.0" x2="61.40" y2="663.6" stroke="#111" stroke-width="1.1"/>
<text x="61.40" y="674.30" class="tk" text-anchor="middle">0</text>
<line x1="81.08" y1="660.0" x2="81.08" y2="663.6" stroke="#111" stroke-width="1.1"/>
<text x="81.08" y="674.30" class="tk" text-anchor="middle">12</text>
<line x1="100.76" y1="660.0" x2="100.76" y2="663.6" stroke="#111" stroke-width="1.1"/>
<text x="100.76" y="674.30" class="tk" text-anchor="middle">24</text>
<line x1="120.44" y1="660.0" x2="120.44" y2="663.6" stroke="#111" stroke-width="1.1"/>
<text x="120.44" y="674.30" class="tk" text-anchor="middle">36</text>
<line x1="140.12" y1="660.0" x2="140.12" y2="663.6" stroke="#111" stroke-width="1.1"/>
<text x="140.12" y="674.30" class="tk" text-anchor="middle">48</text>
<line x1="159.80" y1="660.0" x2="159.80" y2="663.6" stroke="#111" stroke-width="1.1"/>
<text x="159.80" y="674.30" class="tk" text-anchor="middle">60</text>
<line x1="179.48" y1="660.0" x2="179.48" y2="663.6" stroke="#111" stroke-width="1.1"/>
<text x="179.48" y="674.30" class="tk" text-anchor="middle">72</text>
<line x1="199.16" y1="660.0" x2="199.16" y2="663.6" stroke="#111" stroke-width="1.1"/>
<text x="199.16" y="674.30" class="tk" text-anchor="middle">84</text>
<line x1="218.84" y1="660.0" x2="218.84" y2="663.6" stroke="#111" stroke-width="1.1"/>
<text x="218.84" y="674.30" class="tk" text-anchor="middle">96</text>
<line x1="238.52" y1="660.0" x2="238.52" y2="663.6" stroke="#111" stroke-width="1.1"/>
<text x="238.52" y="674.30" class="tk" text-anchor="middle">108</text>
<text x="104.75" y="688.2" class="ml" textLength="87.2" lengthAdjust="spacingAndGlyphs">Months since randomization</text>
<text x="61.70" y="701.8" class="nb" text-anchor="middle">39</text>
<text x="101.06" y="701.8" class="nb" text-anchor="middle">20</text>
<text x="140.42" y="701.8" class="nb" text-anchor="middle">11</text>
<text x="179.78" y="701.8" class="nb" text-anchor="middle">5</text>
<text x="219.14" y="701.8" class="nb" text-anchor="middle">1</text>
<text x="61.70" y="712.8" class="nr" text-anchor="middle">83</text>
<text x="101.06" y="712.8" class="nr" text-anchor="middle">35</text>
<text x="140.42" y="712.8" class="nr" text-anchor="middle">10</text>
<text x="179.78" y="712.8" class="nr" text-anchor="middle">5</text>
<text x="219.14" y="712.8" class="nr" text-anchor="middle">0</text>
<path d="M61.40,516.10 L62.90,516.10 L62.90,517.75 L64.40,517.75 L64.40,519.40 L71.25,519.40 L71.58,519.40 L71.58,521.08 L71.90,521.08 L71.90,522.75 L80.00,522.75 L80.62,522.75 L80.62,524.50 L81.25,524.50 L81.25,526.25 L82.17,526.25 L82.17,528.12 L83.10,528.12 L83.10,530.00 L83.42,530.00 L83.42,531.73 L83.75,531.73 L83.75,533.45 L84.08,533.45 L84.08,535.17 L84.40,535.17 L84.40,536.90 L84.77,536.90 L84.77,538.52 L85.14,538.52 L85.14,540.14 L85.51,540.14 L85.51,541.76 L85.88,541.76 L85.88,543.38 L86.25,543.38 L86.25,545.00 L90.60,545.00 L90.86,545.25 L90.86,546.70 L91.12,546.70 L91.12,548.15 L91.38,548.15 L91.38,549.60 L91.64,549.60 L91.64,551.05 L91.90,551.05 L91.90,552.50 L92.27,552.50 L92.27,554.12 L92.64,554.12 L92.64,555.74 L93.01,555.74 L93.01,557.36 L93.38,557.36 L93.38,558.98 L93.75,558.98 L93.75,560.60 L96.90,560.60 L96.99,560.60 L96.99,562.30 L97.07,562.30 L97.07,564.00 L97.16,564.00 L97.16,565.70 L97.24,565.70 L97.24,567.40 L97.33,567.40 L97.33,569.10 L97.41,569.10 L97.41,570.80 L97.50,570.80 L97.50,572.50 L100.00,572.50 L100.00,573.10 L100.30,573.10 L100.30,574.67 L100.60,574.67 L100.60,576.25 L103.75,576.25 L103.75,576.90 L104.08,576.90 L104.08,578.45 L104.40,578.45 L104.40,580.00 L110.60,580.00 L110.82,580.25 L110.82,581.63 L111.03,581.63 L111.03,583.02 L111.25,583.02 L111.25,584.40 L119.40,584.40 L119.64,584.40 L119.64,585.90 L119.88,585.90 L119.88,587.40 L120.12,587.40 L120.12,588.90 L120.36,588.90 L120.36,590.40 L120.60,590.40 L120.60,591.90 L123.75,591.90 L123.75,592.75 L124.38,592.75 L124.38,594.38 L125.00,594.38 L125.00,596.00 L128.10,596.00 L128.10,596.50 L128.43,596.50 L128.43,598.38 L128.75,598.38 L128.75,600.25 L138.10,600.25 L138.36,600.25 L138.36,601.82 L138.62,601.82 L138.62,603.39 L138.88,603.39 L138.88,604.96 L139.14,604.96 L139.14,606.53 L139.40,606.53 L139.40,608.10 L143.10,608.10 L143.10,608.75 L143.75,608.75 L143.75,610.62 L144.40,610.62 L144.40,612.50 L148.10,612.50 L148.10,613.10 L148.75,613.10 L148.75,615.00 L149.40,615.00 L149.40,616.90 L151.90,616.90 L151.90,617.50 L152.20,617.50 L152.20,619.05 L152.50,619.05 L152.50,620.60 L155.00,620.60 L155.00,621.25 L155.62,621.25 L155.62,623.12 L156.25,623.12 L156.25,625.00 L161.25,625.00 L161.57,625.25 L161.57,627.00 L161.90,627.00 L161.90,628.75 L166.25,628.75 L166.25,629.40 L166.67,629.40 L166.67,630.85 L167.08,630.85 L167.08,632.30 L167.50,632.30 L167.50,633.75 L210.75,633.75 L210.84,633.75 L210.84,635.46 L210.93,635.46 L210.93,637.17 L211.01,637.17 L211.01,638.89 L211.10,638.89 L211.10,640.60 L234.90,640.60" fill="none" stroke="#2e3a52" stroke-width="1.75" stroke-linejoin="miter"/>
<path d="M61.40,516.10 L62.12,516.10 L62.12,517.63 L62.84,517.63 L62.84,519.16 L63.56,519.16 L63.56,520.69 L64.28,520.69 L64.28,522.22 L65.00,522.22 L65.00,523.75 L65.25,523.75 L65.25,525.25 L65.50,525.25 L65.50,526.75 L65.75,526.75 L65.75,528.25 L66.00,528.25 L66.00,529.75 L66.25,529.75 L66.25,531.25 L70.00,531.25 L70.00,533.10 L71.25,533.10 L71.25,534.35 L72.50,534.35 L72.50,535.60 L73.75,535.60 L73.75,536.85 L75.00,536.85 L75.00,538.10 L80.00,538.10 L80.00,538.50 L80.47,538.50 L80.47,540.12 L80.95,540.12 L80.95,541.75 L81.43,541.75 L81.43,543.38 L81.90,543.38 L81.90,545.00 L84.40,545.00 L84.40,546.25 L84.70,546.25 L84.70,547.81 L85.00,547.81 L85.00,549.38 L85.30,549.38 L85.30,550.94 L85.60,550.94 L85.60,552.50 L86.43,552.50 L86.43,554.17 L87.27,554.17 L87.27,555.83 L88.10,555.83 L88.10,557.50 L88.93,557.50 L88.93,559.17 L89.77,559.17 L89.77,560.83 L90.60,560.83 L90.60,562.50 L90.82,562.50 L90.82,564.07 L91.03,564.07 L91.03,565.63 L91.25,565.63 L91.25,567.20 L91.47,567.20 L91.47,568.77 L91.68,568.77 L91.68,570.33 L91.90,570.33 L91.90,571.90 L94.40,571.90 L94.40,573.75 L94.80,573.75 L94.80,575.42 L95.20,575.42 L95.20,577.08 L95.60,577.08 L95.60,578.75 L96.02,578.75 L96.02,580.31 L96.43,580.31 L96.43,581.87 L96.85,581.87 L96.85,583.42 L97.27,583.42 L97.27,584.98 L97.68,584.98 L97.68,586.54 L98.10,586.54 L98.10,588.10 L99.67,588.10 L99.67,589.35 L101.25,589.35 L101.25,590.60 L102.50,590.60 L102.50,592.17 L103.75,592.17 L103.75,593.75 L105.00,593.75 L105.00,595.60 L105.38,595.60 L105.38,597.23 L105.76,597.23 L105.76,598.86 L106.14,598.86 L106.14,600.49 L106.52,600.49 L106.52,602.12 L106.90,602.12 L106.90,603.75 L107.27,603.75 L107.27,605.25 L107.64,605.25 L107.64,606.75 L108.01,606.75 L108.01,608.25 L108.38,608.25 L108.38,609.75 L108.75,609.75 L108.75,611.25 L110.33,611.25 L110.33,612.83 L111.90,612.83 L111.90,614.40 L113.45,614.40 L113.45,615.95 L115.00,615.95 L115.00,617.50 L116.90,617.50 L116.90,618.10 L117.52,618.10 L117.52,619.60 L118.14,619.60 L118.14,621.10 L118.76,621.10 L118.76,622.60 L119.38,622.60 L119.38,624.10 L120.00,624.10 L120.00,625.60 L121.25,625.60 L121.25,626.85 L122.50,626.85 L122.50,628.10 L123.75,628.10 L123.75,629.67 L125.00,629.67 L125.00,631.25 L126.88,631.25 L126.88,632.83 L128.75,632.83 L128.75,634.40 L133.75,634.40 L133.75,635.00 L135.60,635.00 L135.60,636.25 L140.00,636.25 L140.00,636.90 L141.55,636.90 L141.55,638.33 L143.10,638.33 L143.10,639.75 L171.90,639.75 L172.30,640.00 L172.30,641.47 L172.70,641.47 L172.70,642.93 L173.10,642.93 L173.10,644.40 L187.40,644.40 L188.00,644.40 L188.00,646.50 L203.60,646.50 L204.25,646.50 L204.25,647.95 L204.90,647.95 L204.90,649.40 L205.20,649.40 L205.20,650.65 L205.50,650.65 L205.50,651.90 L214.25,651.90" fill="none" stroke="#80203f" stroke-width="1.75" stroke-linejoin="miter"/>
<line x1="161.3" y1="531.9" x2="177.9" y2="531.9" stroke="#2e3a52" stroke-width="1.6"/>
<line x1="161.3" y1="542.25" x2="177.9" y2="542.25" stroke="#80203f" stroke-width="1.6"/>
<text x="180.65" y="534.4" class="lg">no subclone(s)</text>
<text x="180.65" y="544.75" class="lg">with subclone(s)</text>
<g transform="translate(161.95,556.25) scale(1.1,1)"><text x="0" y="0" class="lr">log-rank p=0.01</text></g>
<path d="M54.7,510.75 L242.0,510.75 L242.0,660.0 L54.7,660.0 Z" fill="none" stroke="#000" stroke-width="1.4"/>
<g transform="translate(274.5,585.5) rotate(-90)"><text x="-40.15" y="0" class="yl" textLength="80.3" lengthAdjust="spacingAndGlyphs">Overall survival probability</text></g>
<line x1="309.3" y1="516.10" x2="312.6" y2="516.10" stroke="#111" stroke-width="1"/>
<text x="305.6" y="519.00" class="tk" text-anchor="end">100 %</text>
<line x1="309.3" y1="550.80" x2="312.6" y2="550.80" stroke="#111" stroke-width="1"/>
<text x="305.6" y="553.70" class="tk" text-anchor="end">75 %</text>
<line x1="309.3" y1="585.50" x2="312.6" y2="585.50" stroke="#111" stroke-width="1"/>
<text x="305.6" y="588.40" class="tk" text-anchor="end">50 %</text>
<line x1="309.3" y1="620.20" x2="312.6" y2="620.20" stroke="#111" stroke-width="1"/>
<text x="305.6" y="623.10" class="tk" text-anchor="end">25 %</text>
<line x1="309.3" y1="654.90" x2="312.6" y2="654.90" stroke="#111" stroke-width="1"/>
<text x="305.6" y="657.80" class="tk" text-anchor="end">0 %</text>
<line x1="319.70" y1="660.0" x2="319.70" y2="663.6" stroke="#111" stroke-width="1.1"/>
<text x="319.70" y="674.30" class="tk" text-anchor="middle">0</text>
<line x1="338.68" y1="660.0" x2="338.68" y2="663.6" stroke="#111" stroke-width="1.1"/>
<text x="338.68" y="674.30" class="tk" text-anchor="middle">12</text>
<line x1="357.66" y1="660.0" x2="357.66" y2="663.6" stroke="#111" stroke-width="1.1"/>
<text x="357.66" y="674.30" class="tk" text-anchor="middle">24</text>
<line x1="376.64" y1="660.0" x2="376.64" y2="663.6" stroke="#111" stroke-width="1.1"/>
<text x="376.64" y="674.30" class="tk" text-anchor="middle">36</text>
<line x1="395.62" y1="660.0" x2="395.62" y2="663.6" stroke="#111" stroke-width="1.1"/>
<text x="395.62" y="674.30" class="tk" text-anchor="middle">48</text>
<line x1="414.60" y1="660.0" x2="414.60" y2="663.6" stroke="#111" stroke-width="1.1"/>
<text x="414.60" y="674.30" class="tk" text-anchor="middle">60</text>
<line x1="433.58" y1="660.0" x2="433.58" y2="663.6" stroke="#111" stroke-width="1.1"/>
<text x="433.58" y="674.30" class="tk" text-anchor="middle">72</text>
<line x1="452.56" y1="660.0" x2="452.56" y2="663.6" stroke="#111" stroke-width="1.1"/>
<text x="452.56" y="674.30" class="tk" text-anchor="middle">84</text>
<line x1="471.54" y1="660.0" x2="471.54" y2="663.6" stroke="#111" stroke-width="1.1"/>
<text x="471.54" y="674.30" class="tk" text-anchor="middle">96</text>
<line x1="490.52" y1="660.0" x2="490.52" y2="663.6" stroke="#111" stroke-width="1.1"/>
<text x="490.52" y="674.30" class="tk" text-anchor="middle">108</text>
<text x="362.75" y="688.2" class="ml" textLength="87.2" lengthAdjust="spacingAndGlyphs">Months since randomization</text>
<text x="320.00" y="701.8" class="nb" text-anchor="middle">39</text>
<text x="357.96" y="701.8" class="nb" text-anchor="middle">34</text>
<text x="395.92" y="701.8" class="nb" text-anchor="middle">24</text>
<text x="433.88" y="701.8" class="nb" text-anchor="middle">19</text>
<text x="471.84" y="701.8" class="nb" text-anchor="middle">8</text>
<text x="509.80" y="701.8" class="nb" text-anchor="middle">0</text>
<text x="320.00" y="712.8" class="nr" text-anchor="middle">83</text>
<text x="357.96" y="712.8" class="nr" text-anchor="middle">56</text>
<text x="395.92" y="712.8" class="nr" text-anchor="middle">38</text>
<text x="433.88" y="712.8" class="nr" text-anchor="middle">23</text>
<text x="471.84" y="712.8" class="nr" text-anchor="middle">5</text>
<text x="509.80" y="712.8" class="nr" text-anchor="middle">0</text>
<path d="M319.70,516.10 L321.35,516.10 L321.35,517.55 L323.00,517.55 L323.00,519.00 L340.50,519.00 L341.00,519.00 L341.00,520.75 L341.50,520.75 L341.50,522.50 L352.40,522.50 L352.70,522.75 L352.70,524.50 L353.00,524.50 L353.00,526.25 L359.90,526.25 L360.50,526.50 L360.50,528.25 L361.10,528.25 L361.10,530.00 L362.05,530.00 L362.05,531.25 L363.00,531.25 L363.00,532.50 L363.62,532.50 L363.62,534.05 L364.25,534.05 L364.25,535.60 L365.18,535.60 L365.18,537.50 L366.10,537.50 L366.10,539.40 L366.43,539.40 L366.43,540.80 L366.75,540.80 L366.75,542.20 L367.07,542.20 L367.07,543.60 L367.40,543.60 L367.40,545.00 L370.50,545.00 L370.50,545.60 L371.90,545.60 L371.90,547.50 L372.30,547.50 L372.30,549.17 L372.70,549.17 L372.70,550.83 L373.10,550.83 L373.10,552.50 L378.10,552.50 L378.10,553.10 L378.75,553.10 L378.75,555.00 L379.40,555.00 L379.40,556.90 L406.25,556.90 L406.57,556.90 L406.57,558.75 L406.90,558.75 L406.90,560.60 L414.40,560.60 L414.40,561.00 L414.82,561.00 L414.82,563.00 L415.25,563.00 L415.25,565.00 L425.00,565.00 L425.62,565.25 L425.62,567.12 L426.25,567.12 L426.25,569.00 L428.75,569.00 L428.75,569.75 L428.95,569.75 L428.95,571.25 L429.15,571.25 L429.15,572.75 L429.35,572.75 L429.35,574.25 L429.55,574.25 L429.55,575.75 L429.75,575.75 L429.75,577.25 L448.75,577.25 L448.97,577.25 L448.97,578.67 L449.18,578.67 L449.18,580.08 L449.40,580.08 L449.40,581.50 L463.40,581.50 L463.55,581.50 L463.55,583.00 L463.70,583.00 L463.70,584.50 L463.85,584.50 L463.85,586.00 L464.00,586.00 L464.00,587.50 L487.50,587.50" fill="none" stroke="#2e3a52" stroke-width="1.75" stroke-linejoin="miter"/>
<path d="M319.70,516.10 L321.00,516.10 L321.00,517.82 L322.30,517.82 L322.30,519.53 L323.60,519.53 L323.60,521.25 L326.75,521.25 L326.75,522.50 L328.32,522.50 L328.32,523.75 L329.90,523.75 L329.90,525.00 L331.15,525.00 L331.15,526.88 L332.40,526.88 L332.40,528.75 L336.10,528.75 L336.10,530.60 L337.68,530.60 L337.68,531.85 L339.25,531.85 L339.25,533.10 L341.12,533.10 L341.12,535.00 L343.00,535.00 L343.00,536.90 L344.25,536.90 L344.25,538.75 L345.50,538.75 L345.50,540.60 L346.33,540.60 L346.33,542.27 L347.17,542.27 L347.17,543.93 L348.00,543.93 L348.00,545.60 L349.88,545.60 L349.88,546.85 L351.75,546.85 L351.75,548.10 L353.62,548.10 L353.62,550.00 L355.50,550.00 L355.50,551.90 L357.38,551.90 L357.38,553.15 L359.25,553.15 L359.25,554.40 L360.82,554.40 L360.82,556.25 L362.40,556.25 L362.40,558.10 L363.95,558.10 L363.95,559.67 L365.50,559.67 L365.50,561.25 L366.33,561.25 L366.33,562.92 L367.17,562.92 L367.17,564.58 L368.00,564.58 L368.00,566.25 L371.75,566.25 L371.75,568.10 L373.68,568.10 L373.68,570.00 L375.60,570.00 L375.60,571.90 L376.55,571.90 L376.55,573.33 L377.50,573.33 L377.50,574.75 L382.50,574.75 L382.50,575.60 L383.75,575.60 L383.75,577.25 L391.25,577.25 L392.18,577.50 L392.18,579.05 L393.10,579.05 L393.10,580.60 L395.60,580.60 L395.60,582.50 L396.25,582.50 L396.25,584.38 L396.90,584.38 L396.90,586.25 L398.75,586.25 L398.75,588.10 L403.75,588.10 L403.75,590.00 L405.32,590.00 L405.32,591.55 L406.90,591.55 L406.90,593.10 L412.50,593.10 L412.50,594.40 L412.98,594.40 L412.98,595.80 L413.45,595.80 L413.45,597.20 L413.92,597.20 L413.92,598.60 L414.40,598.60 L414.40,600.00 L419.40,600.00 L419.40,600.60 L420.32,600.60 L420.32,602.17 L421.25,602.17 L421.25,603.75 L425.60,603.75 L425.60,605.00 L426.85,605.00 L426.85,606.25 L428.10,606.25 L428.10,607.50 L431.90,607.50 L431.90,608.75 L433.75,608.75 L433.75,610.00 L435.60,610.00 L435.60,611.25 L446.90,611.25 L448.15,611.50 L448.15,613.25 L449.40,613.25 L449.40,615.00 L450.65,615.00 L450.65,616.25 L451.90,616.25 L451.90,617.50 L453.00,617.50 L453.75,617.80 L453.75,619.35 L454.50,619.35 L454.50,620.90 L455.25,620.90 L455.25,622.45 L456.00,622.45 L456.00,624.00 L474.00,624.00 L474.00,630.50 L483.00,630.50 L483.00,638.50 L493.00,638.50" fill="none" stroke="#80203f" stroke-width="1.75" stroke-linejoin="miter"/>
<line x1="324.0" y1="625.9" x2="340.6" y2="625.9" stroke="#2e3a52" stroke-width="1.6"/>
<line x1="324.0" y1="636.25" x2="340.6" y2="636.25" stroke="#80203f" stroke-width="1.6"/>
<text x="343.65" y="628.4" class="lg">no subclone(s)</text>
<text x="343.65" y="638.75" class="lg">with subclone(s)</text>
<g transform="translate(324.59999999999997,650.0) scale(1.1,1)"><text x="0" y="0" class="lr">log-rank p=0.002</text></g>
<path d="M312.6,510.75 L500.1,510.75 L500.1,660.0 L312.6,660.0 Z" fill="none" stroke="#000" stroke-width="1.4"/></svg>
</body></html>
